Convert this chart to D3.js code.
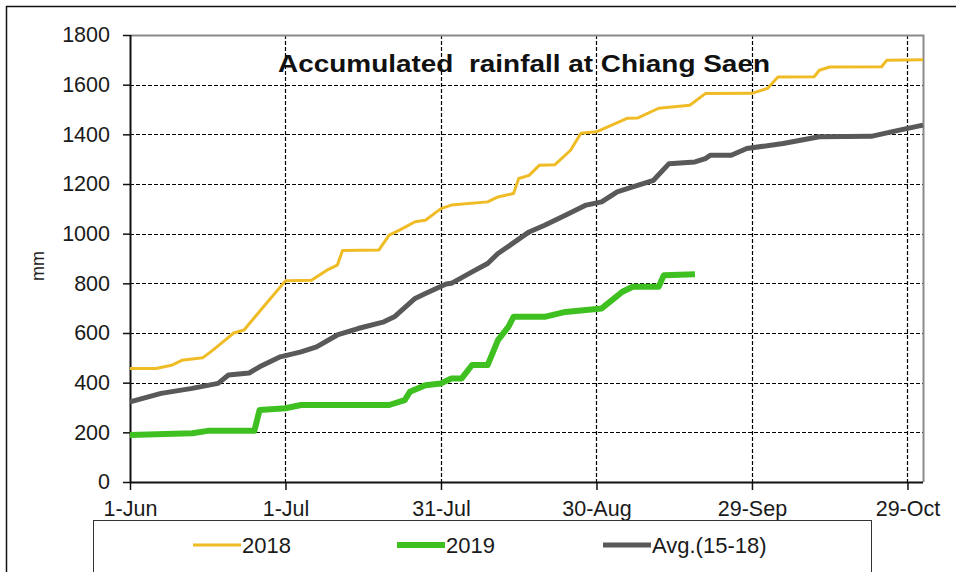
<!DOCTYPE html>
<html>
<head>
<meta charset="utf-8">
<script src="https://cdn.jsdelivr.net/npm/d3@7"></script>
<style>
  html, body { margin: 0; padding: 0; background: #fff; }
  svg { display: block; font-family: "Liberation Sans", Arial, sans-serif; }
</style>
</head>
<body>
<svg id="chart" width="956" height="572"></svg>
<script>
// ---- data (dates as MM-DD, accumulated rainfall in mm) ----
const dates2018 = ["06-01","06-06","06-09","06-11","06-15","06-17","06-19","06-21","06-23","06-27","07-01","07-06","07-09","07-11","07-12","07-19","07-21","07-23","07-26","07-28","07-31","08-02","08-09","08-11","08-14","08-15","08-17","08-19","08-22","08-25","08-27","08-30","09-05","09-07","09-11","09-17","09-20","09-29","10-02","10-04","10-11","10-12","10-14","10-24","10-25","11-01"];
const values2018 = [457,457,470,490,500,531,565,600,612,712,810,812,853,873,932,934,994,1014,1048,1054,1101,1115,1128,1148,1162,1222,1235,1276,1278,1336,1404,1410,1465,1466,1505,1517,1564,1565,1585,1631,1632,1658,1671,1672,1698,1700];

const dates2019 = ["06-01","06-13","06-16","06-25","06-26","07-01","07-04","07-21","07-24","07-25","07-28","07-31","08-02","08-04","08-06","08-09","08-11","08-13","08-14","08-20","08-24","08-31","09-02","09-04","09-06","09-11","09-12","09-18"];
const values2019 = [189,196,206,206,290,297,310,310,330,363,390,397,417,417,471,471,571,625,665,665,685,699,732,766,786,786,833,837];

const datesAvg = ["06-01","06-07","06-13","06-18","06-20","06-24","06-26","06-30","07-04","07-07","07-11","07-15","07-20","07-22","07-26","07-28","08-01","08-02","08-06","08-09","08-11","08-17","08-20","08-24","08-28","08-31","09-03","09-06","09-10","09-13","09-18","09-20","09-21","09-25","09-28","10-05","10-12","10-22","10-27","11-01"];
const valuesAvg = [323,357,377,397,431,439,464,504,524,544,592,618,645,665,739,759,797,800,846,880,920,1007,1034,1074,1115,1128,1168,1188,1215,1282,1289,1302,1316,1316,1343,1363,1390,1392,1415,1437];

const xTickDates = ["06-01","07-01","07-31","08-30","09-29","10-29"];
const yTicks = [0,200,400,600,800,1000,1200,1400,1600,1800];
const seriesNames = ["2018","2019","Avg.(15-18)"];
const seriesColors = ["#EFBC26","#3EC120","#595959"];
const seriesWidths = [3,6,5];
const titleText = "Accumulated  rainfall at Chiang Saen";
const yLabel = "mm";

// ---- setup ----
const parse = s => d3.timeParse("%Y-%m-%d")("2019-" + s);
const svg = d3.select("#chart");
const m = {left: 130, top: 35, right: 923, bottom: 482};

const x = d3.scaleTime()
  .domain([parse("06-01"), parse("11-01")])
  .range([m.left, m.right]);
const y = d3.scaleLinear().domain([0, 1800]).range([m.bottom, m.top]);

// outer frame (top & left visible)
svg.append("line").attr("x1", 6.5).attr("x2", 6.5).attr("y1", 6).attr("y2", 572)
  .attr("stroke", "#111").attr("stroke-width", 1.5);
svg.append("line").attr("x1", 6).attr("x2", 956).attr("y1", 6.5).attr("y2", 6.5)
  .attr("stroke", "#111").attr("stroke-width", 1.5);

// gridlines
const grid = svg.append("g").attr("stroke", "#000").attr("stroke-width", 1.2).attr("stroke-dasharray", "4,2");
grid.selectAll("line.h").data(yTicks.filter(v => v > 0 && v < 1800)).join("line")
  .attr("x1", m.left).attr("x2", m.right)
  .attr("y1", d => Math.round(y(d)) + 0.5).attr("y2", d => Math.round(y(d)) + 0.5);
grid.selectAll("line.v").data(xTickDates.slice(1).map(parse)).join("line")
  .attr("y1", m.top).attr("y2", m.bottom)
  .attr("x1", d => Math.round(x(d)) + 0.5).attr("x2", d => Math.round(x(d)) + 0.5);

// plot border top/right (gray)
svg.append("path")
  .attr("d", `M${m.left},${m.top + 0.5}H${m.right + 0.5}V${m.bottom}`)
  .attr("fill", "none").attr("stroke", "#8a8a8a").attr("stroke-width", 2);

// axes
const yAxis = d3.axisLeft(y).tickValues(yTicks).tickSize(7).tickPadding(13).tickFormat(d3.format("d"));
const gy = svg.append("g").attr("transform", `translate(${m.left},0)`).call(yAxis);
const xAxis = d3.axisBottom(x).tickValues(xTickDates.map(parse)).tickSize(8).tickPadding(11)
  .tickFormat(d3.timeFormat("%-d-%b"));
const gx = svg.append("g").attr("transform", `translate(0,${m.bottom})`).call(xAxis);
[gx, gy].forEach(g => {
  g.select(".domain").attr("stroke", "#111").attr("stroke-width", 2);
  g.selectAll(".tick line").attr("stroke", "#111").attr("stroke-width", 1.5);
  g.selectAll(".tick text").attr("fill", "#1a1a1a").attr("font-size", 21.5)
    .attr("font-family", "'Liberation Sans', Arial, sans-serif");
});
gx.select(".domain").attr("d", `M${m.left},0.5H${m.right}`);
gy.select(".domain").attr("d", `M0.5,${m.top}V${m.bottom}`);

// y label
svg.append("text").attr("transform", `translate(44,266) rotate(-90)`)
  .attr("text-anchor", "middle").attr("font-size", 18).attr("fill", "#222").text(yLabel);

// lines
const line = d3.line().x(d => x(d.date)).y(d => y(d.value));
const series = [
  {dates: dates2018, values: values2018},
  {dates: dates2019, values: values2019},
  {dates: datesAvg, values: valuesAvg}
];
series.forEach((s, i) => {
  const pts = s.dates.map((d, j) => ({date: parse(d), value: s.values[j]}));
  svg.append("path").datum(pts).attr("d", line)
    .attr("fill", "none").attr("stroke", seriesColors[i])
    .attr("stroke-width", seriesWidths[i]).attr("stroke-linejoin", "round");
});

// title
svg.append("text").attr("x", 278).attr("y", 72)
  .attr("font-size", 24).attr("font-weight", "bold").attr("fill", "#111")
  .attr("textLength", 492).attr("lengthAdjust", "spacingAndGlyphs")
  .style("white-space", "pre").text(titleText);

// legend
svg.append("rect").attr("x", 93.5).attr("y", 520.5).attr("width", 778).attr("height", 70)
  .attr("fill", "#fff").attr("stroke", "#333").attr("stroke-width", 1);
const legX = [193, 397, 603];
const legG = svg.append("g");
seriesNames.forEach((n, i) => {
  legG.append("line").attr("x1", legX[i]).attr("x2", legX[i] + 48)
    .attr("y1", 545).attr("y2", 545)
    .attr("stroke", seriesColors[i]).attr("stroke-width", seriesWidths[i]);
  legG.append("text").attr("x", legX[i] + 49).attr("y", 553)
    .attr("font-size", 22).attr("fill", "#1a1a1a").text(n);
});
</script>
</body>
</html>
